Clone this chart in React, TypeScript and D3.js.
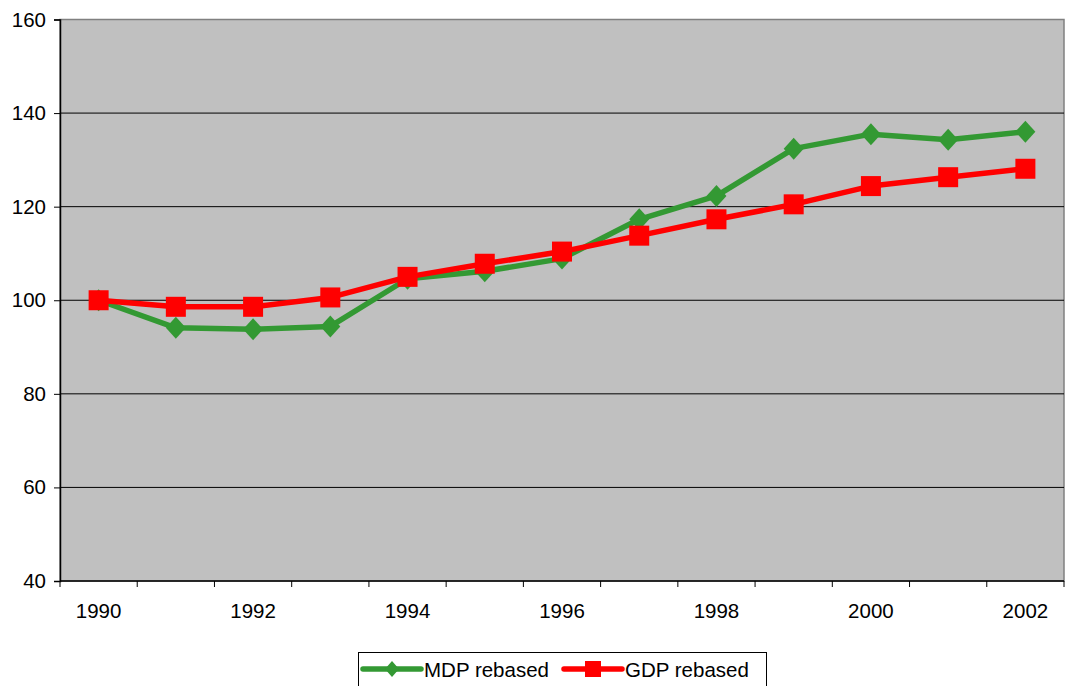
import React, { useEffect, useRef } from "react";
import * as d3 from "d3";

const years = ["1990", "1991", "1992", "1993", "1994", "1995", "1996", "1997", "1998", "1999", "2000", "2001", "2002"];
const mdpRebased = [100, 94.1, 93.8, 94.4, 104.6, 106.2, 108.9, 117.3, 122.3, 132.4, 135.5, 134.3, 136.0];
const gdpRebased = [100, 98.6, 98.6, 100.6, 105.0, 107.8, 110.4, 113.8, 117.3, 120.5, 124.4, 126.3, 128.1];
const yTicks = [40, 60, 80, 100, 120, 140, 160];
const xLabelYears = ["1990", "1992", "1994", "1996", "1998", "2000", "2002"];

const App = () => {
  const ref = useRef<SVGSVGElement>(null);

  useEffect(() => {
    const svg = d3.select(ref.current);
    svg.selectAll("*").remove();

    // plot area in page pixels
    const left = 60, right = 1064, top = 19.5, bottom = 581;
    const font = "'Liberation Sans', Arial, sans-serif";
    const fs = "20.5px";

    const x = d3.scaleBand().domain(years).range([left, right]);
    const y = d3.scaleLinear().domain([40, 160]).range([bottom, top]);

    svg.append("rect")
      .attr("x", left).attr("y", top)
      .attr("width", right - left).attr("height", bottom - top)
      .attr("fill", "#c0c0c0")
      .attr("stroke", "#808080").attr("stroke-width", 1.5);

    // horizontal grid lines
    svg.append("g")
      .selectAll("line")
      .data(yTicks.filter((t) => t > 40 && t < 160))
      .join("line")
      .attr("x1", left).attr("x2", right)
      .attr("y1", (d) => y(d)).attr("y2", (d) => y(d))
      .attr("stroke", "#000").attr("stroke-width", 1);

    // y axis
    const yAxis = svg.append("g")
      .attr("transform", `translate(${left},0)`)
      .call(d3.axisLeft(y).tickValues(yTicks).tickSize(6).tickPadding(8));
    yAxis.select(".domain").attr("stroke", "#000").attr("stroke-width", 1.5);
    yAxis.selectAll("text").style("font-size", fs).style("font-family", font).attr("fill", "#000");

    // x axis: ticks between categories
    const xg = svg.append("g");
    xg.append("line")
      .attr("x1", left).attr("x2", right)
      .attr("y1", bottom).attr("y2", bottom)
      .attr("stroke", "#000").attr("stroke-width", 1.5);
    const boundaries = years.map((yr) => x(yr)!).concat([right]);
    xg.selectAll("line.tick")
      .data(boundaries)
      .join("line")
      .attr("class", "tick")
      .attr("x1", (d) => d).attr("x2", (d) => d)
      .attr("y1", bottom).attr("y2", bottom + 6)
      .attr("stroke", "#000").attr("stroke-width", 1);
    xg.selectAll("text")
      .data(xLabelYears)
      .join("text")
      .attr("x", (d) => x(d)! + x.bandwidth() / 2)
      .attr("y", 618)
      .attr("text-anchor", "middle")
      .style("font-size", fs)
      .style("font-family", font)
      .text((d) => d);

    const cx = (i: number) => x(years[i])! + x.bandwidth() / 2;
    const line = d3.line<number>().x((_, i) => cx(i)).y((d) => y(d));

    // MDP series
    svg.append("path")
      .datum(mdpRebased)
      .attr("d", line)
      .attr("fill", "none")
      .attr("stroke", "#339933").attr("stroke-width", 5.5)
      .attr("stroke-linejoin", "round");
    svg.append("g")
      .selectAll("path")
      .data(mdpRebased)
      .join("path")
      .attr("d", "M0,-11L10,0L0,11L-10,0Z")
      .attr("transform", (d, i) => `translate(${cx(i)},${y(d)})`)
      .attr("fill", "#339933");

    // GDP series
    svg.append("path")
      .datum(gdpRebased)
      .attr("d", line)
      .attr("fill", "none")
      .attr("stroke", "#ff0000").attr("stroke-width", 5.5)
      .attr("stroke-linejoin", "round");
    svg.append("g")
      .selectAll("rect")
      .data(gdpRebased)
      .join("rect")
      .attr("x", (d, i) => cx(i) - 10)
      .attr("y", (d) => y(d) - 10)
      .attr("width", 20).attr("height", 20)
      .attr("fill", "#ff0000");

    // legend
    const lg = svg.append("g");
    lg.append("rect")
      .attr("x", 358.5).attr("y", 652.5)
      .attr("width", 408).attr("height", 40)
      .attr("fill", "#fff").attr("stroke", "#000").attr("stroke-width", 1);
    const items = [
      { name: "MDP rebased", color: "#339933", x0: 363, shape: "diamond" },
      { name: "GDP rebased", color: "#ff0000", x0: 564, shape: "square" },
    ];
    items.forEach((it) => {
      const ly = 669;
      lg.append("line")
        .attr("x1", it.x0).attr("x2", it.x0 + 58)
        .attr("y1", ly).attr("y2", ly)
        .attr("stroke", it.color).attr("stroke-width", 5.5)
        .attr("stroke-linecap", "round");
      if (it.shape === "diamond") {
        lg.append("path")
          .attr("d", "M0,-8L7,0L0,8L-7,0Z")
          .attr("transform", `translate(${it.x0 + 29},${ly})`)
          .attr("fill", it.color);
      } else {
        lg.append("rect")
          .attr("x", it.x0 + 29 - 8).attr("y", ly - 8)
          .attr("width", 16).attr("height", 16)
          .attr("fill", it.color);
      }
      lg.append("text")
        .attr("x", it.x0 + 61).attr("y", ly + 7.5)
        .style("font-size", fs)
        .style("font-family", font)
        .text(it.name);
    });
  }, []);

  return (
    <svg ref={ref} width={1066} height={686} style={{ position: "absolute", left: 0, top: 0 }} />
  );
};

export default App;
